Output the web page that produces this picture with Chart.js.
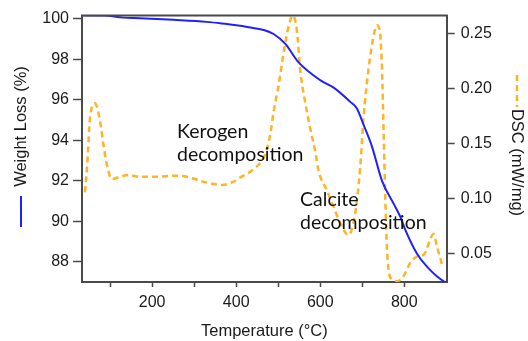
<!DOCTYPE html>
<html>
<head>
<meta charset="utf-8">
<script src="https://cdn.jsdelivr.net/npm/chart.js@4.4.1/dist/chart.umd.min.js"></script>
<style>
  html, body { margin: 0; padding: 0; background: #fff; }
</style>
</head>
<body>
<canvas id="tga" width="528" height="341"></canvas>
<script>
// TGA weight curve (left axis)
const tgaTemp = [33, 84, 132, 171, 251, 330, 378, 410, 440, 465, 489, 517, 548, 600, 632, 671, 687, 703, 723, 747, 775, 791, 802, 830, 854, 894, 900];
const tgaWeight = [100.18, 100.18, 100.06, 100.03, 99.95, 99.85, 99.74, 99.66, 99.55, 99.45, 99.25, 98.76, 97.86, 96.97, 96.6, 95.91, 95.58, 94.77, 93.7, 92.0, 90.86, 90.2, 89.6, 88.41, 87.76, 87.03, 86.98];

// DSC curve (right axis)
const dscTemp = [40, 46, 52, 64, 76, 84, 92, 104, 124, 144, 171, 211, 251, 283, 314, 346, 366, 390, 410, 441, 469, 481, 489, 501, 513, 525, 535, 545, 552, 564, 576, 588, 596, 616, 632, 648, 667, 683, 695, 703, 715, 727, 735, 743, 747, 751, 755, 759, 767, 783, 798, 814, 830, 846, 870, 878, 890];
const dscValue = [0.1055, 0.134, 0.1728, 0.1863, 0.1698, 0.1489, 0.131, 0.1175, 0.1196, 0.1211, 0.1196, 0.1196, 0.1205, 0.1196, 0.116, 0.113, 0.1121, 0.1145, 0.119, 0.1265, 0.140, 0.1579, 0.1788, 0.2028, 0.2327, 0.2566, 0.266, 0.2506, 0.2177, 0.1878, 0.1638, 0.1429, 0.125, 0.107, 0.092, 0.0771, 0.0666, 0.0861, 0.1278, 0.1728, 0.2177, 0.2477, 0.2572, 0.2477, 0.2177, 0.1579, 0.098, 0.0531, 0.028, 0.0247, 0.0292, 0.0412, 0.0471, 0.0487, 0.0675, 0.056, 0.0397];

const xTickLabels = [200, 400, 600, 800];

// text notes, anchored in data units (temperature, weight)
const notes = [
  { lines: ['Kerogen', 'decomposition'], x: 259, y: 94.1 },
  { lines: ['Calcite', 'decomposition'], x: 552, y: 90.77 }
];

const blue = '#2020ff';
const orange = '#ffb326';
const axisColor = '#4a4a4a';
const textColor = '#1a1a1a';
const tickFont = { family: 'Liberation Sans, Arial, sans-serif', size: 16 };

function toPoints(xs, ys) {
  return xs.map((x, i) => ({ x: x, y: ys[i] }));
}

const extras = {
  id: 'extras',
  afterDraw(chart) {
    const ctx = chart.ctx;
    const a = chart.chartArea;
    ctx.save();

    // top frame line
    ctx.strokeStyle = axisColor;
    ctx.lineWidth = 2;
    ctx.beginPath();
    ctx.moveTo(a.left - 1, a.top);
    ctx.lineTo(a.right + 1, a.top);
    ctx.stroke();

    // left title with its line key
    ctx.fillStyle = textColor;
    ctx.font = '16.5px Liberation Sans, Arial, sans-serif';
    ctx.textAlign = 'center';
    ctx.textBaseline = 'middle';
    ctx.save();
    ctx.translate(21, 126.5);
    ctx.rotate(-Math.PI / 2);
    ctx.fillText('Weight Loss (%)', 0, 0);
    ctx.restore();
    ctx.strokeStyle = blue;
    ctx.lineWidth = 2;
    ctx.beginPath();
    ctx.moveTo(21, 196);
    ctx.lineTo(21, 227);
    ctx.stroke();

    // right title with its dashed key
    ctx.save();
    ctx.translate(517, 162.5);
    ctx.rotate(Math.PI / 2);
    ctx.fillText('DSC (mW/mg)', 0, 0);
    ctx.restore();
    ctx.strokeStyle = orange;
    ctx.lineWidth = 2.5;
    ctx.setLineDash([6, 4]);
    ctx.beginPath();
    ctx.moveTo(517, 75);
    ctx.lineTo(517, 107);
    ctx.stroke();
    ctx.setLineDash([]);

    // annotations
    const sx = chart.scales.x;
    const sy = chart.scales.y;
    ctx.font = '19.5px Lato, sans-serif';
    ctx.textAlign = 'left';
    ctx.textBaseline = 'alphabetic';
    ctx.fillStyle = '#111';
    notes.forEach((n) => {
      const px = sx.getPixelForValue(n.x);
      const py = sy.getPixelForValue(n.y);
      n.lines.forEach((t, i) => ctx.fillText(t, px, py + i * 23));
    });

    ctx.restore();
  }
};

const ctx = document.getElementById('tga');

new Chart(ctx, {
  type: 'line',
  data: {
    datasets: [{
      label: 'Weight Loss (%)',
      data: toPoints(tgaTemp, tgaWeight),
      yAxisID: 'y',
      borderColor: blue,
      borderWidth: 2,
      pointRadius: 0,
      cubicInterpolationMode: 'monotone'
    }, {
      label: 'DSC (mW/mg)',
      data: toPoints(dscTemp, dscValue),
      yAxisID: 'y1',
      borderColor: orange,
      borderWidth: 2.5,
      borderDash: [6, 4],
      pointRadius: 0,
      cubicInterpolationMode: 'monotone'
    }]
  },
  options: {
    responsive: false,
    animation: false,
    layout: { padding: { top: 13, left: 0, right: 0, bottom: 0 } },
    plugins: {
      legend: { display: false },
      tooltip: { enabled: false }
    },
    scales: {
      x: {
        type: 'linear',
        min: 33,
        max: 901,
        afterFit: (s) => { s.height = 59; },
        border: { color: axisColor, width: 2 },
        grid: {
          drawOnChartArea: false,
          tickLength: 5,
          tickWidth: 1.5,
          tickColor: (c) => (c.tick && c.tick.value === 900 ? 'rgba(0,0,0,0)' : axisColor)
        },
        ticks: {
          stepSize: 100,
          includeBounds: false,
          autoSkip: false,
          maxRotation: 0,
          padding: 6,
          color: textColor,
          font: tickFont,
          callback: (v) => (xTickLabels.includes(v) ? v : '')
        },
        title: {
          display: true,
          text: 'Temperature (°C)',
          color: textColor,
          font: { family: 'Liberation Sans, Arial, sans-serif', size: 16.5 },
          padding: { top: 0, bottom: 0 }
        }
      },
      y: {
        position: 'left',
        min: 87,
        max: 100.16,
        afterFit: (s) => { s.width = 82; },
        border: { color: axisColor, width: 2 },
        grid: { drawOnChartArea: false, tickLength: 9, tickWidth: 1.5, tickColor: axisColor },
        ticks: {
          stepSize: 2,
          includeBounds: false,
          padding: 4,
          color: textColor,
          font: tickFont
        }
      },
      y1: {
        position: 'right',
        min: 0.024,
        max: 0.266,
        afterFit: (s) => { s.width = 81.3; },
        border: { color: axisColor, width: 2 },
        grid: { drawOnChartArea: false, tickLength: 8, tickWidth: 1.5, tickColor: axisColor },
        ticks: {
          stepSize: 0.05,
          includeBounds: false,
          padding: 6,
          color: textColor,
          font: tickFont,
          callback: (v) => v.toFixed(2)
        }
      }
    }
  },
  plugins: [extras]
});
</script>
</body>
</html>
